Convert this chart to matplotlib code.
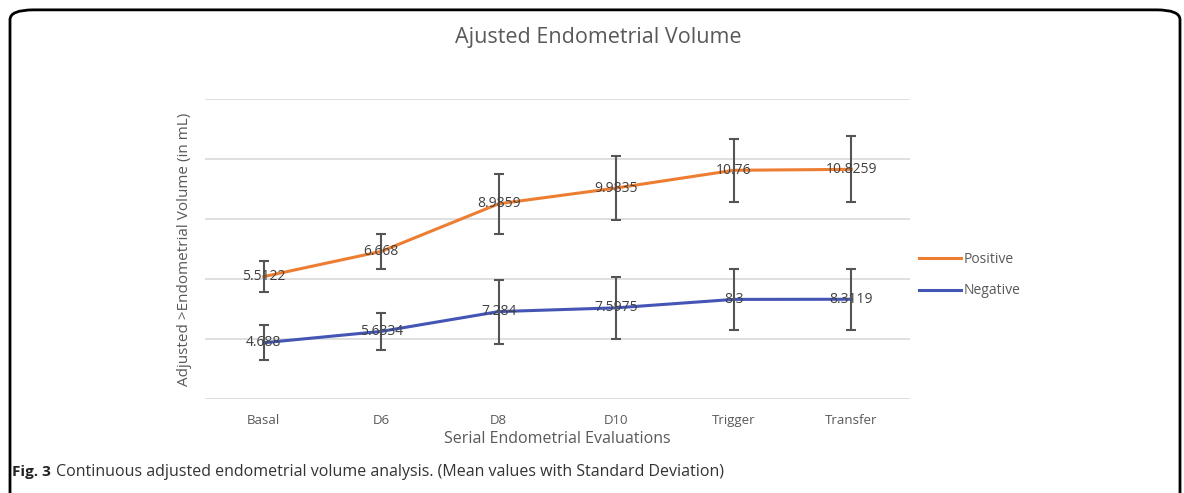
import numpy as np
import matplotlib.pyplot as plt
from matplotlib.patches import FancyBboxPatch

categories = ['Basal', 'D6', 'D8', 'D10', 'Trigger', 'Transfer']
positive = [5.5122, 6.668, 8.9859, 9.9835, 10.76, 10.8259]
negative = [4.688, 5.6334, 7.284, 7.5975, 8.3, 8.3119]
positive_sd = [1.27, 1.43, 2.5, 2.64, 2.63, 2.75]
negative_sd = [1.44, 1.53, 2.67, 2.57, 2.54, 2.54]

plt.rcParams['font.family'] = ['Open Sans', 'DejaVu Sans']
fig = plt.figure(figsize=(11.84, 4.93), dpi=100)

# rounded frame around the whole figure (bottom runs off the image)
frame = FancyBboxPatch((10 / 1184, -0.2), 1170 / 1184, 1.18, boxstyle='round,pad=0,rounding_size=0.02',
                       transform=fig.transFigure, fill=False, edgecolor='black', linewidth=2)
fig.patches.append(frame)

ax = fig.add_axes([205 / 1184, (493 - 399) / 493, 705 / 1184, 300 / 493])

x = np.arange(len(categories))
neg = np.array(negative)
# Excel stacked line chart: positive sits on top of negative
pos_stacked = neg + np.array(positive)

orange = '#ED7D31'
blue = '#4455B5'
ax.plot(x, pos_stacked, color=orange, lw=2.2, label='Positive', zorder=3)
ax.plot(x, neg, color=blue, lw=2.2, label='Negative', zorder=3)
ax.errorbar(x, pos_stacked, yerr=positive_sd, fmt='none', ecolor='#555555', elinewidth=1.5, capsize=3.5, capthick=1.5, zorder=4)
ax.errorbar(x, neg, yerr=negative_sd, fmt='none', ecolor='#555555', elinewidth=1.5, capsize=3.5, capthick=1.5, zorder=4)

for xi, yi, v in zip(x, pos_stacked, positive):
    ax.text(xi, yi, f'{v:g}', ha='center', va='center', fontsize=10, color='#404040', zorder=5)
for xi, yi, v in zip(x, neg, negative):
    ax.text(xi, yi, f'{v:g}', ha='center', va='center', fontsize=10, color='#404040', zorder=5)

ax.set_xlim(-0.5, 5.5)
ax.set_ylim(0, 25)
ax.set_yticks(np.arange(0, 26, 5))
ax.set_yticklabels([])
ax.grid(axis='y', color='#D9D9D9', lw=1.2)
ax.set_axisbelow(True)
for s in ax.spines.values():
    s.set_visible(False)
ax.tick_params(length=0, axis='both')
ax.set_xticks(x)
ax.set_xticklabels(categories, fontsize=9.5, color='#595959')
ax.tick_params(axis='x', pad=11)
ax.set_xlabel('Serial Endometrial Evaluations', fontsize=11.5, color='#595959', labelpad=3)
ax.set_ylabel('Adjusted >Endometrial Volume (in mL)', fontsize=11, color='#595959', labelpad=6)

fig.text(598 / 1184, 1 - 38 / 493, 'Ajusted Endometrial Volume', ha='center', va='center', fontsize=15.5, color='#595959')

ax.legend(loc='center left', bbox_to_anchor=(0.995, 0.413), frameon=False, fontsize=10, labelcolor='#595959',
          handlelength=3.0, handletextpad=0.2, labelspacing=1.2)

fig_lbl = fig.text(12 / 1184, 1 - 472 / 493, 'Fig. 3', ha='left', va='center', fontsize=11, fontweight='bold', color='#222222')
fig.canvas.draw()
right = fig_lbl.get_window_extent().x1 / fig.bbox.width
fig.text(right + 5 / 1184, 1 - 472 / 493, 'Continuous adjusted endometrial volume analysis. (Mean values with Standard Deviation)',
         ha='left', va='center', fontsize=11.5, color='#333333')

fig.savefig('out.png', dpi=100)
